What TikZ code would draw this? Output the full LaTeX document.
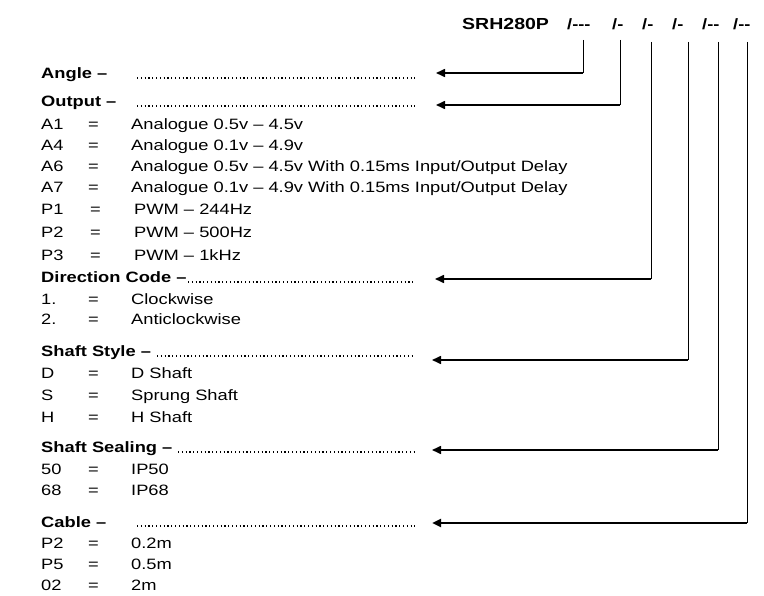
\documentclass[tikz,border=0pt]{standalone}
\usepackage{fontspec}
\setmainfont{Liberation Sans}[FakeStretch=1.22]
\usetikzlibrary{arrows.meta}
\tikzset{
  txt/.style={anchor=base west, inner sep=0pt, font=\fontsize{15}{17}\selectfont},
  hdr/.style={txt, font=\fontsize{15}{17}\selectfont\bfseries},
  code/.style={anchor=base west, inner sep=0pt, font=\fontsize{15}{17}\selectfont\bfseries},
  dots/.style={line width=1.2pt, dash pattern=on 1.2pt off 2.6pt},
  vline/.style={line width=0.9pt},
  hline/.style={line width=1.6pt, -{Triangle[length=9pt,width=8pt]}},
}
\begin{document}
\begin{tikzpicture}[x=1pt,y=-1pt]
\useasboundingbox (0,0) rectangle (764,596);
% title and code segments
\node[code, font=\fontsize{16}{18}\selectfont\bfseries] (title) at (462,30) {SRH280P};
\node[code] (c1) at (567,30) {/-{}-{}-};
\node[code] (c2) at (612,30) {/-};
\node[code] (c3) at (642,30) {/-};
\node[code] (c4) at (672,30) {/-};
\node[code] (c5) at (702,30) {/-{}-};
\node[code] (c6) at (733,30) {/-{}-};
% vertical start points
\coordinate (v1) at (583,40);
\coordinate (v2) at (620,40);
\coordinate (v3) at (651,42);
\coordinate (v4) at (688,42);
\coordinate (v5) at (718,42);
\coordinate (v6) at (747,42);
% arrow tips
\coordinate (t1) at (436,73);
\coordinate (t2) at (436,105);
\coordinate (t3) at (435,279);
\coordinate (t4) at (432,360);
\coordinate (t5) at (432,450);
\coordinate (t6) at (432,523);
\foreach \i in {1,...,6}{
  \draw[vline] (v\i) -- (v\i |- t\i);
}
\draw[hline] (v1 |- t1) -- (t1);
\draw[hline] (v2 |- t2) -- (t2);
\draw[hline] (v3 |- t3) -- (t3);
\draw[hline] (v4 |- t4) -- (t4);
\draw[hline] (v5 |- t5) -- (t5);
\draw[hline, line width=2.4pt] (v6 |- t6) -- (t6);

% Angle
\node[hdr] (hA) at (41,79) {Angle –};
\draw[dots] (137,78) -- (415,78);
% Output
\node[hdr] (hO) at (41,107) {Output –};
\draw[dots] (137,106) -- (415,106);
\node[txt] at (41,130) {A1};  \node[txt] at (88,130) {=}; \node[txt] at (131,130) {Analogue 0.5v – 4.5v};
\node[txt] at (41,151) {A4};  \node[txt] at (88,151) {=}; \node[txt] at (131,151) {Analogue 0.1v – 4.9v};
\node[txt] at (41,172) {A6};  \node[txt] at (88,172) {=}; \node[txt] at (131,172) {Analogue 0.5v – 4.5v With 0.15ms Input/Output Delay};
\node[txt] at (41,193) {A7};  \node[txt] at (88,193) {=}; \node[txt] at (131,193) {Analogue 0.1v – 4.9v With 0.15ms Input/Output Delay};
\node[txt] at (41,215) {P1};  \node[txt] at (90,215) {=}; \node[txt] at (134,215) {PWM – 244Hz};
\node[txt] at (41,238) {P2};  \node[txt] at (90,238) {=}; \node[txt] at (134,238) {PWM – 500Hz};
\node[txt] at (41,261) {P3};  \node[txt] at (90,261) {=}; \node[txt] at (134,261) {PWM – 1kHz};
% Direction
\node[hdr] (hD) at (41,283) {Direction Code –};
\draw[dots] (188,282) -- (415,282);
\node[txt] at (41,305) {1.};  \node[txt] at (88,305) {=}; \node[txt] at (131,305) {Clockwise};
\node[txt] at (41,325) {2.};  \node[txt] at (88,325) {=}; \node[txt] at (131,325) {Anticlockwise};
% Shaft style
\node[hdr] (hS) at (41,357) {Shaft Style –};
\draw[dots] (157,356) -- (415,356);
\node[txt] at (41,379) {D};  \node[txt] at (88,379) {=}; \node[txt] at (131,379) {D Shaft};
\node[txt] at (41,400) {S};  \node[txt] at (88,400) {=}; \node[txt] at (131,400) {Sprung Shaft};
\node[txt] at (41,422) {H};  \node[txt] at (88,422) {=}; \node[txt] at (131,422) {H Shaft};
% Shaft sealing
\node[hdr] (hSe) at (41,453) {Shaft Sealing –};
\draw[dots] (178,452) -- (415,452);
\node[txt] at (41,475) {50};  \node[txt] at (88,475) {=}; \node[txt] at (131,475) {IP50};
\node[txt] at (41,495) {68};  \node[txt] at (88,495) {=}; \node[txt] at (131,495) {IP68};
% Cable
\node[hdr] (hC) at (41,527) {Cable –};
\draw[dots] (137,526) -- (415,526);
\node[txt] at (41,548) {P2};  \node[txt] at (88,548) {=}; \node[txt] at (131,548) {0.2m};
\node[txt] at (41,569) {P5};  \node[txt] at (88,569) {=}; \node[txt] at (131,569) {0.5m};
\node[txt] at (41,590) {02};  \node[txt] at (88,590) {=}; \node[txt] at (131,590) {2m};
\end{tikzpicture}
\end{document}
